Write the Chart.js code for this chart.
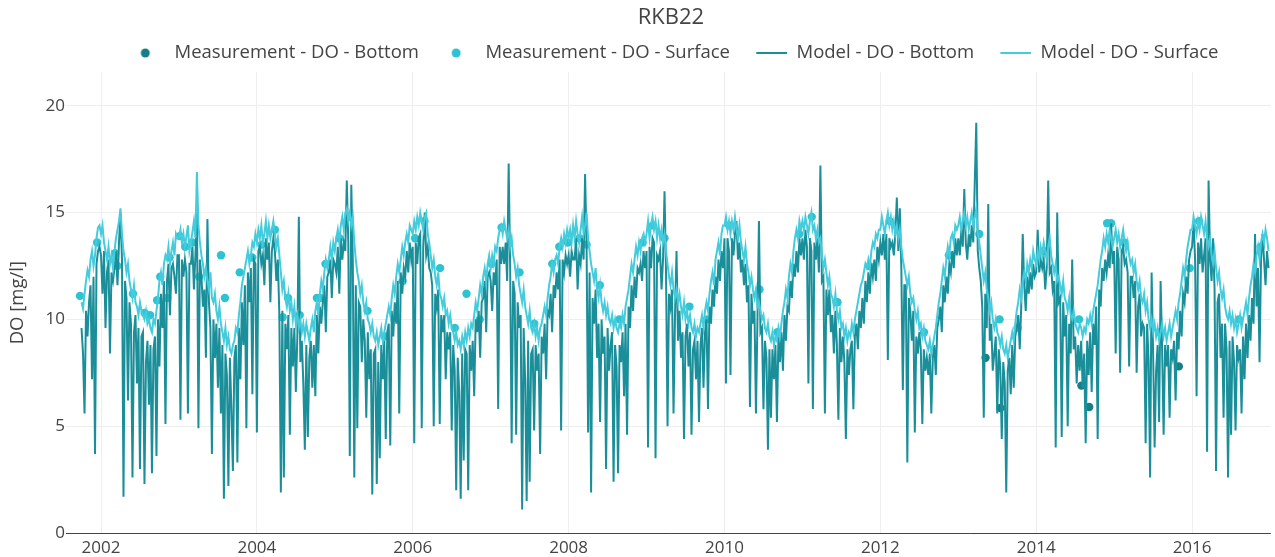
<!DOCTYPE html>
<html>
<head>
<meta charset="utf-8">
<title>RKB22</title>
<script src="https://cdn.jsdelivr.net/npm/chart.js@4.4.1/dist/chart.umd.min.js"></script>
<style>
    html, body { margin: 0; padding: 0; background: #fff; }
    #wrap { width: 1275px; height: 557px; }
</style>
</head>
<body>
<div id="wrap"><canvas id="doChart" width="1275" height="557"></canvas></div>
<script>
// --- DATA (weekly model values, mg/l) ---
const START_YEAR = 2001.75;     // first model week: start of Oct 2001
const WEEKS_PER_YEAR = 52;

// Model - DO - Surface, one row per year (2001 = Oct..Dec only)
const modelSurface = [
    10.8, 10.5, 11.2, 11.8, 12.3, 12.0, 12.8, 13.2, 12.5, 13.0, 13.8, 14.3, 14.4,
    14.0, 14.4, 13.6, 13.2,  12.8, 13.4, 12.6, 13.0,  12.4, 13.2, 13.8, 14.2,  14.6, 15.2, 14.0, 13.2,  12.8, 12.2, 12.6, 11.8,  11.4, 11.0, 11.6, 10.8,  10.6, 10.2, 10.8, 10.4,  10.2, 10.0, 10.4, 9.8,  10.0, 9.6, 9.4, 10.0,  9.8, 10.4, 11.0, 11.8,  12.2, 11.6, 12.6, 13.0,  12.8, 13.4, 12.6, 13.2,  13.6, 13.0, 14.0, 13.8,
    13.8, 14.2, 13.6, 14.0,  13.4, 13.9, 14.4, 13.2,  13.6, 14.1, 14.6, 13.8,  16.9, 14.4, 13.6, 13.0,  12.6, 12.0, 12.4, 11.8,  11.4, 12.2, 11.0, 10.8,  11.2, 10.4, 10.0, 10.6,  9.8, 9.4, 9.0, 9.6,  8.8, 9.2, 8.6, 8.4,  8.8, 9.0, 9.6, 9.4,  10.2, 10.8, 11.6, 12.0,  12.4, 12.8, 13.2, 12.6,  13.0, 13.6, 13.4, 14.0,
    13.6, 14.2, 13.8, 14.4,  13.6, 14.0, 14.6, 13.8,  14.4, 13.8, 14.2, 14.6,  14.0, 13.4, 13.8, 13.0,  12.2, 11.4, 11.8, 11.0,  10.6, 11.2, 10.4, 10.8,  10.0, 10.6, 9.8, 10.2,  9.6, 10.0, 9.4, 9.8,  9.2, 9.8, 9.4, 9.0,  9.6, 10.0, 9.4, 10.4,  10.8, 10.2, 11.2, 11.8,  11.4, 12.2, 12.8, 12.4,  12.8, 13.4, 12.8, 13.6,
    13.2, 13.8, 14.2, 13.6,  14.4, 14.8, 14.2, 15.0,  15.2, 14.6, 15.0, 14.4,  14.8, 13.6, 12.8, 12.2,  11.8, 11.2, 11.6, 10.8,  10.4, 10.8, 10.0, 9.8,  9.4, 9.8, 9.2, 9.0,  9.4, 8.8, 9.2, 9.6,  9.0, 9.4, 9.8, 10.2,  10.6, 10.2, 11.0, 11.6,  11.2, 12.0, 12.6, 12.2,  12.8, 13.4, 13.0, 13.6,  14.0, 13.6, 14.4, 14.2,
    14.0, 14.6, 14.2, 14.8,  14.4, 15.0, 14.6, 14.2,  14.8, 15.0, 14.0, 13.6,  13.0, 12.4, 12.8, 12.0,  11.6, 12.2, 11.2, 11.0,  10.6, 11.0, 10.2, 10.4,  9.8, 10.2, 9.6, 9.4,  9.0, 9.4, 8.8, 9.0,  8.6, 9.2, 8.8, 9.4,  9.0, 9.6, 9.2, 9.8,  9.6, 10.2, 10.8, 10.4,  11.0, 11.6, 11.2, 12.0,  12.4, 11.8, 12.6, 13.0,
    12.4, 13.0, 12.6, 13.4,  13.2, 13.8, 14.2, 14.4,  14.0, 14.6, 14.2, 13.8,  14.2, 13.4, 13.8, 13.0,  12.6, 12.0, 12.4, 11.6,  11.2, 10.8, 11.4, 10.6,  10.2, 9.8, 10.4, 9.6,  9.4, 9.8, 9.2, 9.6,  9.0, 9.6, 9.8, 10.2,  10.6, 10.2, 11.0, 11.6,  12.0, 12.6, 12.2, 12.8,  13.0, 12.6, 13.4, 13.8,  13.4, 14.0, 13.6, 14.2,
    13.8, 14.2, 13.6, 14.4,  13.8, 14.6, 14.0, 13.6,  14.2, 14.8, 14.0, 14.4,  15.0, 13.8, 13.2, 12.6,  12.2, 11.8, 12.4, 11.4,  11.0, 11.6, 10.8, 10.4,  10.8, 10.2, 10.6, 10.0,  9.8, 10.2, 9.6, 10.0,  9.6, 9.4, 9.8, 9.6,  10.2, 9.8, 10.6, 11.0,  11.4, 12.0, 12.6, 12.2,  12.8, 13.4, 13.0, 13.6,  13.2, 13.8, 14.0, 13.6,
    14.0, 14.6, 13.8, 14.4,  14.8, 14.2, 14.6, 13.8,  14.4, 13.8, 14.2, 13.6,  14.0, 13.2, 12.6, 12.0,  11.6, 12.2, 11.4, 11.0,  11.4, 10.8, 11.2, 10.6,  10.2, 10.8, 10.0, 10.4,  9.8, 10.2, 9.6, 9.4,  9.8, 9.2, 9.6, 9.4,  9.8, 10.2, 9.6, 10.4,  10.8, 10.4, 11.2, 11.8,  12.2, 11.6, 12.8, 13.2,  13.6, 13.0, 14.0, 14.4,
    14.4, 14.8, 14.2, 14.6,  14.0, 14.6, 14.2, 14.8,  14.2, 13.8, 14.4, 13.6,  13.2, 12.8, 13.4, 12.6,  12.2, 11.6, 12.0, 11.4,  11.0, 11.4, 10.6, 10.8,  10.4, 10.0, 10.2, 9.6,  9.4, 9.8, 9.2, 9.0,  9.4, 8.8, 9.2, 9.0,  9.6, 9.2, 9.8, 10.4,  10.8, 11.4, 11.0, 12.0,  12.6, 12.2, 13.2, 13.8,  14.2, 13.8, 14.6, 14.2,
    14.6, 14.2, 14.8, 14.4,  14.0, 14.6, 15.0, 14.2,  14.4, 13.8, 14.2, 13.6,  13.8, 13.0, 12.4, 12.8,  12.2, 11.6, 12.0, 11.2,  11.0, 10.6, 11.2, 10.4,  10.0, 10.4, 9.6, 9.8,  9.2, 9.6, 9.0, 9.4,  9.2, 9.8, 9.4, 10.0,  10.4, 10.8, 11.2, 11.6,  11.8, 12.2, 12.6, 12.4,  12.8, 12.4, 13.2, 13.6,  13.4, 14.0, 13.8, 14.2,
    14.2, 14.8, 14.4, 14.0,  14.6, 15.0, 14.4, 14.8,  14.2, 14.6, 14.0, 14.4,  13.8, 14.2, 13.4, 12.8,  12.4, 12.0, 11.6, 12.0,  11.2, 10.8, 11.0, 10.4,  10.0, 10.4, 9.6, 9.8,  9.2, 9.6, 9.0, 8.8,  8.6, 9.0, 8.4, 8.8,  9.2, 9.6, 10.2, 10.8,  11.2, 11.8, 12.4, 12.0,  12.8, 13.4, 13.0, 13.8,  14.0, 13.6, 14.4, 14.2,
    14.4, 14.8, 14.2, 14.6,  15.0, 14.4, 14.8, 14.2,  14.6, 15.0, 14.4, 14.8,  15.2, 14.0, 13.6, 13.0,  12.4, 11.8, 12.2, 11.4,  11.0, 10.4, 10.8, 10.0,  9.6, 10.0, 9.4, 9.2,  8.8, 9.2, 8.6, 8.4,  8.8, 8.2, 8.6, 9.0,  9.4, 9.0, 9.8, 10.4,  10.8, 11.4, 11.0, 11.8,  12.2, 11.8, 12.6, 12.2,  12.8, 12.4, 13.2, 12.8,
    12.6, 13.2, 12.8, 13.4,  13.0, 13.6, 13.2, 12.8,  13.4, 13.8, 13.0, 12.6,  12.2, 12.6, 11.8, 12.0,  11.6, 11.2, 11.8, 11.0,  10.8, 10.4, 11.0, 10.2,  10.0, 10.4, 9.8, 9.6,  9.4, 9.8, 9.6, 9.2,  9.6, 9.4, 10.0, 9.8,  10.2, 9.8, 10.4, 10.8,  11.2, 11.6, 12.2, 12.8,  13.2, 13.8, 13.4, 14.0,  13.6, 14.2, 13.8, 13.4,
    13.8, 14.2, 13.6, 14.0,  13.4, 13.8, 14.2, 13.6,  13.2, 13.6, 13.0, 12.6,  12.8, 12.2, 12.6, 11.8,  11.4, 11.8, 11.0, 10.8,  11.2, 10.4, 10.8, 10.0,  9.6, 10.0, 9.4, 9.8,  9.2, 9.6, 9.0, 9.4,  9.8, 9.2, 9.6, 9.0,  9.4, 9.8, 9.2, 9.6,  10.0, 10.4, 10.0, 10.8,  11.2, 11.8, 12.4, 12.0,  12.8, 13.4, 13.8, 14.2,
    14.2, 14.8, 14.4, 14.0,  14.6, 14.2, 14.8, 14.4,  14.0, 14.6, 13.8, 13.4,  13.8, 13.0, 12.6, 13.2,  12.4, 11.8, 12.2, 11.4,  11.0, 11.4, 10.6, 10.2,  10.0, 10.4, 9.8, 10.2,  9.6, 10.0, 9.4, 9.8,  10.2, 9.6, 10.0, 10.4,  10.8, 10.2, 11.0, 11.6,  12.0, 12.6, 12.2, 13.0,  13.4, 12.8, 13.6, 14.0,  13.6, 14.2, 13.8, 13.2
];

// Model - DO - Bottom, same weeks
const modelBottom = [
    9.6, 8.4, 5.6, 10.4, 9.2, 10.8, 11.6, 7.2, 12.0, 3.7, 12.6, 13.2, 13.4,
    13.0, 11.2, 13.2, 9.6,  12.2, 12.8, 8.4, 12.2,  11.8, 12.4, 13.2, 11.6,  13.6, 15.0, 12.8, 1.7,  11.8, 11.0, 6.2, 10.8,  9.8, 2.6, 9.4, 10.2,  7.0, 9.6, 3.0, 9.2,  9.4, 2.3, 8.0, 9.0,  6.0, 8.8, 2.8, 8.6,  9.2, 3.6, 10.0, 7.8,  11.2, 9.6, 11.8, 5.1,  11.8, 12.6, 10.2, 12.4,  12.6, 12.0, 11.2, 13.0,
    13.0, 5.3, 12.8, 12.0,  12.8, 12.2, 5.6, 12.6,  12.6, 13.4, 11.4, 13.0,  15.3, 4.9, 12.8, 12.0,  10.6, 11.4, 8.2, 14.7,  10.8, 9.6, 3.7, 10.0,  8.2, 9.8, 6.8, 9.6,  5.6, 8.8, 1.6, 8.4,  7.4, 2.2, 8.2, 5.8,  2.9, 8.2, 8.8, 3.3,  9.6, 7.2, 10.8, 8.8,  11.6, 4.9, 12.2, 10.8,  12.4, 6.5, 12.8, 12.6,
    4.7, 13.2, 13.4, 12.6,  13.0, 11.6, 13.8, 12.8,  13.6, 10.8, 13.2, 13.8,  13.2, 11.8, 12.8, 10.2,  1.9, 10.4, 2.6, 9.8,  8.6, 10.2, 4.6, 9.6,  7.8, 9.6, 6.6, 9.2,  14.8, 8.0, 9.0, 7.0,  3.9, 8.8, 4.5, 8.2,  9.0, 6.8, 8.8, 6.4,  10.2, 8.4, 10.6, 9.8,  10.8, 11.6, 9.4, 12.0,  12.2, 12.8, 11.0, 12.8,
    12.6, 12.2, 13.4, 11.2,  13.8, 12.8, 13.6, 13.2,  16.5, 13.6, 3.6, 16.3,  12.8, 2.6, 11.6, 4.9,  10.8, 10.6, 8.0, 10.0,  9.0, 5.4, 9.4, 7.2,  8.6, 1.8, 8.4, 8.6,  2.3, 8.0, 3.5, 8.8,  7.2, 9.0, 4.4, 9.4,  9.8, 4.1, 10.4, 9.2,  10.8, 9.8, 11.8, 5.6,  12.2, 11.2, 12.4, 12.0,  13.2, 12.2, 13.6, 12.8,
    13.4, 4.2, 13.6, 12.6,  13.8, 14.0, 4.9, 13.4,  15.0, 13.0, 13.4, 12.4,  12.2, 11.6, 5.0, 11.2,  10.6, 11.4, 5.1, 10.2,  9.4, 10.2, 7.2, 9.4,  8.6, 9.4, 4.8, 8.8,  7.6, 2.0, 8.2, 6.6,  1.6, 8.4, 3.4, 8.6,  8.4, 2.0, 8.8, 7.6,  9.0, 6.4, 10.0, 9.4,  10.4, 8.2, 10.8, 11.0,  11.8, 9.4, 12.0, 12.2,
    11.8, 10.4, 12.2, 11.6,  12.8, 5.8, 13.4, 12.6,  13.4, 12.6, 13.6, 11.8,  17.3, 12.4, 4.2, 11.8,  11.2, 4.6, 10.8, 9.6,  10.2, 1.1, 9.6, 7.2,  1.5, 9.0, 2.4, 8.4,  8.6, 4.8, 8.8, 7.6,  8.4, 3.7, 9.2, 8.4,  9.8, 7.2, 10.4, 10.2,  11.2, 9.4, 11.6, 11.0,  12.2, 11.4, 12.8, 4.8,  12.8, 12.2, 13.0, 12.6,
    13.0, 12.0, 13.2, 12.8,  12.8, 13.8, 11.4, 13.0,  12.6, 13.8, 12.8, 16.8,  13.4, 4.7, 12.2, 1.9,  11.0, 9.8, 11.4, 8.2,  9.8, 5.2, 10.0, 8.4,  9.2, 3.0, 9.6, 7.6,  8.8, 9.4, 2.4, 8.8,  7.8, 2.8, 8.8, 8.0,  9.4, 6.4, 9.8, 4.6,  10.6, 9.6, 11.6, 10.4,  12.0, 11.0, 12.4, 12.2,  12.6, 11.8, 13.2, 12.4,
    13.2, 4.0, 13.4, 12.4,  13.8, 13.6, 3.5, 13.0,  12.8, 13.2, 11.4, 12.8,  16.0, 12.2, 5.0, 11.2,  10.6, 11.4, 5.6, 10.2,  13.2, 9.0, 10.4, 8.2,  9.4, 4.4, 9.2, 9.8,  7.8, 9.4, 4.6, 8.6,  9.0, 7.2, 9.0, 5.2,  8.8, 9.6, 6.8, 9.4,  10.0, 5.8, 10.6, 9.8,  11.4, 10.6, 12.0, 11.2,  12.8, 11.8, 13.2, 12.4,
    13.8, 7.0, 13.8, 13.2,  7.4, 13.8, 13.0, 14.0,  14.6, 12.8, 13.6, 12.2,  12.8, 11.6, 12.6, 10.8,  11.6, 5.9, 11.2, 9.8,  10.4, 5.6, 10.0, 14.6,  9.4, 9.6, 5.8, 9.0,  8.2, 3.9, 8.6, 5.4,  8.6, 7.2, 8.8, 5.2,  9.2, 8.0, 9.4, 7.6,  10.2, 9.0, 10.6, 10.4,  11.8, 11.0, 12.6, 12.0,  13.2, 12.2, 13.8, 13.0,
    13.8, 12.8, 14.2, 13.4,  7.0, 13.8, 13.2, 5.8,  13.6, 12.8, 13.8, 12.2,  17.2, 11.8, 12.0, 5.6,  11.4, 10.2, 11.4, 9.4,  10.2, 8.4, 10.4, 8.8,  5.3, 9.6, 8.0, 9.2,  8.0, 4.4, 8.6, 7.4,  8.6, 9.0, 5.8, 9.2,  9.8, 8.6, 10.4, 9.6,  11.0, 9.8, 11.8, 10.8,  12.2, 11.2, 12.6, 12.0,  12.8, 11.8, 13.4, 12.8,
    13.6, 13.0, 14.0, 12.8,  14.0, 8.1, 13.8, 13.4,  13.6, 13.0, 14.0, 15.7,  13.2, 15.2, 12.4, 6.7,  11.6, 11.6, 3.3, 11.0,  10.4, 9.0, 10.4, 4.7,  9.2, 8.4, 9.4, 8.6,  5.1, 8.6, 7.6, 8.2,  7.4, 8.4, 5.6, 8.2,  8.8, 7.4, 9.6, 10.0,  10.6, 9.4, 11.6, 10.8,  12.0, 11.2, 12.6, 12.2,  13.2, 12.4, 13.8, 13.0,
    13.8, 13.0, 14.2, 13.4,  16.1, 13.6, 12.8, 14.0,  13.4, 14.4, 13.6, 16.4,  19.2, 13.2, 12.4, 11.8,  10.6, 5.4, 11.2, 9.6,  15.4, 9.0, 9.8, 7.6,  8.4, 9.2, 5.6, 8.6,  7.8, 4.4, 8.0, 7.0,  1.9, 7.6, 8.2, 6.5,  8.8, 6.8, 9.2, 9.6,  10.2, 8.6, 10.6, 14.0,  11.6, 10.4, 12.0, 11.2,  12.2, 11.4, 12.6, 12.0,
    12.2, 14.2, 12.2, 12.8,  12.4, 12.8, 11.4, 12.4,  16.5, 12.2, 12.4, 11.4,  11.8, 4.0, 15.0, 10.8,  11.0, 4.5, 10.8, 9.2,  10.2, 5.0, 9.8, 8.4,  12.8, 8.6, 9.2, 7.0,  8.8, 7.6, 9.0, 6.8,  8.4, 4.2, 9.0, 7.4,  9.4, 6.6, 9.8, 8.8,  10.6, 4.4, 11.4, 10.6,  12.4, 11.8, 12.8, 12.2,  13.0, 12.4, 14.5, 12.6,
    13.2, 8.4, 13.4, 12.8,  7.5, 13.2, 13.4, 12.6,  12.8, 12.2, 7.8, 12.0,  12.0, 11.0, 11.8, 7.5,  10.6, 11.2, 9.2, 9.8,  9.6, 4.2, 9.8, 8.0,  2.6, 12.2, 8.4, 4.0,  7.6, 8.8, 5.2, 11.8,  8.6, 4.6, 8.8, 7.8,  8.8, 5.4, 8.6, 8.2,  9.0, 6.2, 9.4, 8.6,  10.4, 9.2, 11.2, 10.8,  12.0, 11.2, 12.8, 13.2,
    13.4, 14.6, 12.8, 6.4,  13.6, 12.6, 13.8, 12.2,  13.0, 13.8, 3.8, 16.5,  12.8, 11.8, 13.8, 11.4,  2.9, 10.8, 11.2, 8.2,  9.8, 5.4, 9.8, 8.6,  2.6, 9.0, 4.6, 9.2,  8.0, 4.8, 8.8, 8.2,  8.6, 5.6, 9.2, 7.2,  9.8, 8.2, 10.2, 9.0,  11.0, 9.8, 14.0, 10.6,  12.4, 8.0, 12.8, 14.0,  12.8, 11.6, 13.2, 12.4
];

// Measurements (decimal year, mg/l)
const measSurfaceDates = [2001.73, 2001.95, 2002.18, 2002.21, 2002.41, 2002.56, 2002.63, 2002.72, 2002.76, 2002.85, 2002.88,
    2003.01, 2003.08, 2003.17, 2003.26, 2003.54, 2003.59, 2003.78, 2003.94, 2004.06, 2004.23, 2004.33, 2004.40, 2004.55,
    2004.77, 2004.81, 2004.88, 2005.06, 2005.19, 2005.42, 2005.64, 2005.87, 2006.03, 2006.15, 2006.35, 2006.54, 2006.69,
    2006.86, 2007.01, 2007.14, 2007.37, 2007.56, 2007.79, 2007.88, 2007.99, 2008.14, 2008.23, 2008.40, 2008.65, 2008.95,
    2009.08, 2009.23, 2009.55, 2009.78, 2010.06, 2010.45, 2010.68, 2010.96, 2011.12, 2011.45, 2011.86, 2012.12, 2012.56,
    2012.88, 2013.27, 2013.53, 2013.76, 2014.10, 2014.55, 2014.91, 2014.96, 2015.13, 2015.58, 2015.97, 2016.09, 2016.60, 2016.88];
const measSurfaceValues = [11.1, 13.6, 13.1, 12.5, 11.2, 10.3, 10.2, 10.9, 12.0, 11.0, 12.9,
    13.9, 13.4, 13.6, 12.0, 13.0, 11.0, 12.2, 12.9, 13.5, 14.2, 10.1, 11.0, 10.2,
    11.0, 11.0, 12.6, 13.8, 14.8, 10.4, 9.2, 11.8, 13.8, 14.6, 12.4, 9.6, 11.2,
    10.0, 12.6, 14.3, 12.2, 9.8, 12.6, 13.4, 13.6, 13.8, 13.5, 11.6, 10.0, 13.6,
    14.4, 13.8, 10.6, 10.0, 14.4, 11.4, 9.4, 14.0, 14.8, 10.8, 12.5, 14.6, 9.4,
    13.0, 14.0, 10.0, 9.6, 13.2, 10.0, 14.5, 14.5, 13.6, 9.4, 12.4, 14.6, 10.0, 13.4];
const measBottomDates = [2013.35, 2013.54, 2014.58, 2014.68, 2015.83];
const measBottomValues = [8.2, 5.85, 6.9, 5.9, 7.8];

const yearTicks = [2002, 2004, 2006, 2008, 2010, 2012, 2014, 2016];
const doTicks = [0, 5, 10, 15, 20];

// --- COLOURS ---
const measBottomColor = '#187f87';
const measSurfaceColor = '#2ec3d3';
const modelBottomColor = '#1a8f9a';
const modelSurfaceColor = '#44cbdc';

// --- HELPERS ---
const weekly = values => values.map((v, i) => ({ x: START_YEAR + i / WEEKS_PER_YEAR, y: v }));
const paired = (dates, values) => dates.map((d, i) => ({ x: d, y: values[i] }));

// little legend icons, same slot width for all four items
const ICON_W = 42;
function makeIcon(kind, color) {
    const c = document.createElement('canvas');
    c.width = ICON_W; c.height = 20;
    const g = c.getContext('2d');
    if (kind === 'dot') {
        g.fillStyle = color;
        g.beginPath();
        g.arc(22, 10, 4.5, 0, Math.PI * 2);
        g.fill();
    } else {
        g.strokeStyle = color;
        g.lineWidth = 2;
        g.beginPath();
        g.moveTo(11, 10);
        g.lineTo(ICON_W, 10);
        g.stroke();
    }
    return c;
}
const legendIcons = [
    makeIcon('dot', measBottomColor),
    makeIcon('dot', measSurfaceColor),
    makeIcon('line', modelBottomColor),
    makeIcon('line', modelSurfaceColor)
];

// plotly centres title + legend over the plot area, not the canvas
const centerOnPlot = {
    id: 'centerOnPlot',
    afterLayout(chart) {
        const area = chart.chartArea;
        [chart.legend, chart.titleBlock].forEach(box => {
            if (box) { box.left = area.left; box.right = area.right; }
        });
    }
};

Chart.defaults.font.family = "'Open Sans', sans-serif";
Chart.defaults.color = '#444';

document.addEventListener("DOMContentLoaded", () => {
    const ctx = document.getElementById('doChart').getContext('2d');
    new Chart(ctx, {
        type: 'line',
        data: {
            datasets: [{
                label: 'Measurement - DO - Bottom',
                data: paired(measBottomDates, measBottomValues),
                showLine: false,
                pointRadius: 4.2,
                pointBackgroundColor: measBottomColor,
                pointBorderWidth: 0,
                order: 4
            }, {
                label: 'Measurement - DO - Surface',
                data: paired(measSurfaceDates, measSurfaceValues),
                showLine: false,
                pointRadius: 4.2,
                pointBackgroundColor: measSurfaceColor,
                pointBorderWidth: 0,
                order: 3
            }, {
                label: 'Model - DO - Bottom',
                data: weekly(modelBottom),
                borderColor: modelBottomColor,
                borderWidth: 2,
                pointRadius: 0,
                tension: 0,
                order: 2
            }, {
                label: 'Model - DO - Surface',
                data: weekly(modelSurface),
                borderColor: modelSurfaceColor,
                borderWidth: 2,
                pointRadius: 0,
                tension: 0,
                order: 1
            }]
        },
        options: {
            responsive: false,
            devicePixelRatio: 1,
            animation: false,
            events: [],
            layout: { padding: { left: 0, right: 3, top: 0, bottom: 0 } },
            plugins: {
                title: {
                    display: true,
                    text: 'RKB22',
                    color: '#444',
                    font: { size: 22, weight: 'normal', lineHeight: 1 },
                    padding: { top: 6.5, bottom: 0 }
                },
                legend: {
                    position: 'top',
                    labels: {
                        usePointStyle: true,
                        pointStyleWidth: ICON_W,
                        padding: 15.25,
                        color: '#444',
                        font: { size: 18.5 },
                        generateLabels: chart => {
                            const items = Chart.defaults.plugins.legend.labels.generateLabels(chart);
                            items.forEach(it => { it.pointStyle = legendIcons[it.datasetIndex]; });
                            return items;
                        },
                        sort: (a, b) => a.datasetIndex - b.datasetIndex
                    }
                },
                tooltip: { enabled: false }
            },
            scales: {
                x: {
                    type: 'linear',
                    min: 2001.615,
                    max: 2017.01,
                    afterBuildTicks: axis => { axis.ticks = yearTicks.map(v => ({ value: v })); },
                    afterFit: scale => { scale.height = 24; },
                    grid: { color: '#eee', drawTicks: false },
                    border: { display: false },
                    ticks: {
                        color: '#444',
                        font: { size: 17 },
                        padding: 5,
                        autoSkip: false,
                        maxRotation: 0,
                        callback: v => String(v)
                    }
                },
                y: {
                    min: 0,
                    max: 21.57,
                    afterBuildTicks: axis => { axis.ticks = doTicks.map(v => ({ value: v })); },
                    afterFit: scale => { scale.width = 71; },
                    grid: {
                        color: c => (c.tick && c.tick.value === 0) ? '#444' : '#eee',
                        tickLength: 5
                    },
                    border: { display: false },
                    ticks: { color: '#444', font: { size: 17 }, padding: 1 },
                    title: {
                        display: true,
                        text: 'DO [mg/l]',
                        color: '#444',
                        font: { size: 18.5 },
                        padding: { top: 7, bottom: 0 }
                    }
                }
            }
        },
        plugins: [centerOnPlot]
    });
});
</script>
</body>
</html>
